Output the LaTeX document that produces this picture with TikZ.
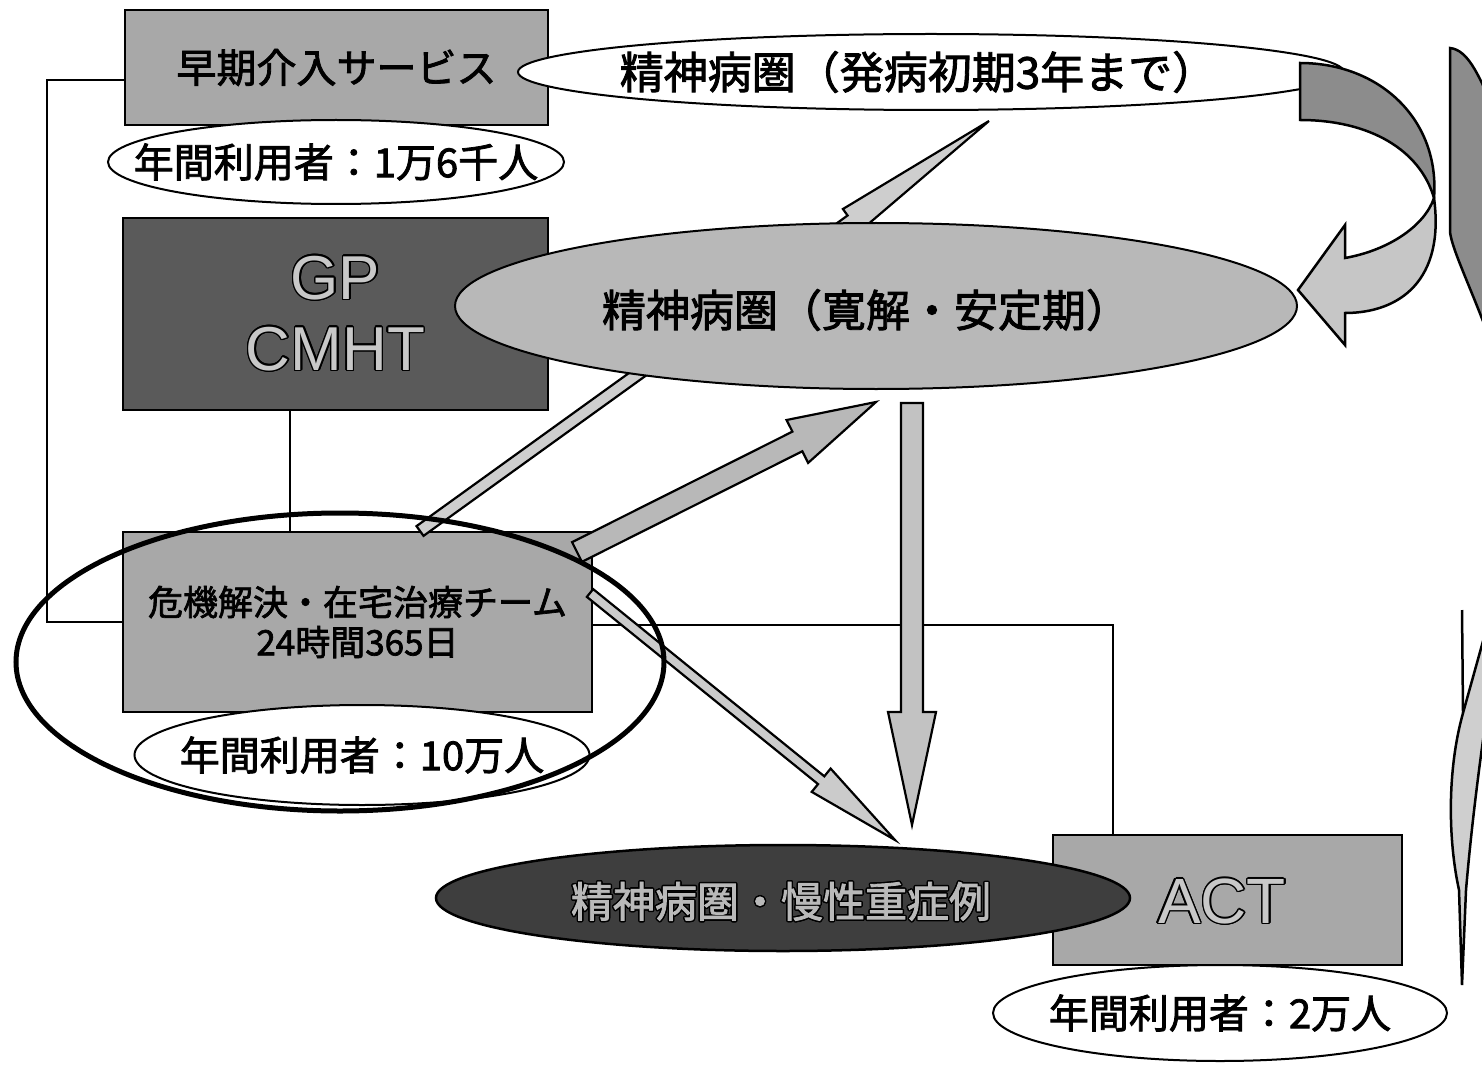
\documentclass[tikz,border=0pt]{standalone}
\usepackage{fontspec}
\setmainfont{Liberation Serif}
\newfontfamily\jp[FakeBold=2]{Noto Sans CJK JP}
\newfontfamily\arialf{Liberation Sans}
\usepackage{contour}
\contourlength{1.4pt}
\usetikzlibrary{calc,shapes.geometric}
\definecolor{boxgray}{HTML}{A8A8A8}
\definecolor{darkbox}{HTML}{5A5A5A}
\definecolor{midoval}{HTML}{B8B8B8}
\definecolor{darkoval}{HTML}{3E3E3E}
\definecolor{arrgray}{HTML}{C2C2C2}
\definecolor{bandA}{HTML}{8C8C8C}
\definecolor{bandB}{HTML}{C6C6C6}
\definecolor{txtlight}{HTML}{C8C8C8}
\newcommand{\blockarr}[6]{%
  \coordinate (#1h) at ($(#2)!#5!(#1)$);
  \draw[#6] ($(#1)!#3!90:(#2)$) -- ($(#1h)!#3!-90:(#1)$) -- ($(#1h)!#4!-90:(#1)$) -- (#2)
    -- ($(#1h)!#4!90:(#1)$) -- ($(#1h)!#3!90:(#1)$) -- ($(#1)!#3!-90:(#2)$) -- cycle;}
\begin{document}
\begin{tikzpicture}[x=1pt,y=-1pt,
  box/.style={draw, line width=2.5pt, rectangle, inner sep=0pt, align=center},
  oval/.style={draw, line width=2pt, ellipse, inner sep=0pt},
  conn/.style={line width=1.6pt},
  barrow/.style={draw, line width=2.2pt, fill=arrgray, line join=miter},
  jptext/.style={inner sep=0pt, align=center, font=\jp}]
\useasboundingbox (0,0) rectangle (1482,1067);
\fill[white] (0,0) rectangle (1482,1067);

% boxes
\node[box, fill=boxgray, minimum width=423pt, minimum height=115pt,
      font=\jp\fontsize{40}{40}\selectfont] (early) at (336.5,67.5) {\raisebox{-4pt}{早期介入サービス}};
\node[box, fill=darkbox, minimum width=425pt, minimum height=192pt,
      font=\arialf\fontsize{62}{71}\selectfont] (gp) at (335.5,314)
      {\contour{black}{\textcolor{txtlight}{GP}}\\\contour{black}{\textcolor{txtlight}{CMHT}}};
\node[box, fill=boxgray, minimum width=469pt, minimum height=180pt,
      font=\jp\fontsize{35}{40}\selectfont] (crisis) at (357.5,622)
      {危機解決・在宅治療チーム\\24時間365日};
\node[box, fill=boxgray, minimum width=349pt, minimum height=130pt] (act) at (1227.5,900) {};
\node[inner sep=0pt] (actt) at (1222,902) {\arialf\fontsize{64}{64}\selectfont\contour{black}{\textcolor{txtlight}{ACT}}};

% thin connectors
\draw[conn] ([yshift=-12.5pt]early.west) -- ++(-77,0) |- (crisis.west);
\draw[conn] ([xshift=-45.5pt]gp.south) -- ([xshift=-67.5pt]crisis.north);
\draw[conn] ([yshift=-3pt]crisis.east) -| ([xshift=-114.5pt]act.north);

% arrow a (behind the oval)
\coordinate (aT) at (420,531);
\coordinate (aP) at (989,121);
\blockarr{aT}{aP}{6pt}{14pt}{170pt}{barrow, fill=arrgray!80}

% ovals
\node[oval, fill=white, minimum width=456pt, minimum height=84pt] (u1) at (336,162) {};
\node[jptext] (u1t) at (u1) {\fontsize{40}{40}\selectfont 年間利用者：1万6千人};
\node[oval, fill=white, minimum width=826pt, minimum height=76pt] (e1) at (931,72) {};
\node[jptext] (e1t) at (918,72) {\fontsize{44}{44}\selectfont 精神病圏（発病初期3年まで）};
\node[oval, fill=midoval, minimum width=842pt, minimum height=166pt] (e2) at (876,306) {};
\node[jptext] (e2t) at (866,310) {\fontsize{44}{44}\selectfont 精神病圏（寛解・安定期）};
\node[oval, fill=white, minimum width=455pt, minimum height=100pt] (u2) at (362,755) {};
\node[jptext] (u2t) at (u2) {\fontsize{40}{40}\selectfont 年間利用者：10万人};
\node[oval, fill=darkoval, line width=2.5pt, minimum width=694pt, minimum height=106pt] (e3) at (783,898) {};
\node[jptext] (e3t) at (781,902) {\fontsize{42}{42}\selectfont\contour{black}{\textcolor{gray!55}{精神病圏・慢性重症例}}};
\node[oval, fill=white, minimum width=454pt, minimum height=96pt] (u3) at (1220,1013) {};
\node[jptext] (u3t) at (u3) {\fontsize{40}{40}\selectfont 年間利用者：2万人};

% block arrows b, c, d
\coordinate (bT) at (577,552);
\coordinate (bP) at (876,402);
\blockarr{bT}{bP}{11pt}{24pt}{88pt}{barrow, fill=arrgray!95!black}
\coordinate (cT) at (590,593);
\coordinate (cP) at (895,840);
\blockarr{cT}{cP}{5pt}{15pt}{95pt}{barrow, fill=arrgray!85}
\coordinate (dT) at (912,403);
\coordinate (dP) at (912,825);
\blockarr{dT}{dP}{11pt}{24pt}{113pt}{barrow, fill=arrgray}

% curved twisted arrow (top right)
\draw[line width=2.5pt, fill=bandA, line join=miter]
  (1300,63) .. controls (1380,63) and (1440,120) .. (1434,198)
  .. controls (1420,150) and (1370,120) .. (1300,120) -- cycle;
\draw[line width=2.5pt, fill=bandB, line join=miter]
  (1434,198) .. controls (1445,280) and (1400,313) .. (1345,313)
  -- (1345,345) -- (1298,290) -- (1345,225) -- (1345,258)
  .. controls (1390,250) and (1425,225) .. (1434,198) -- cycle;

% right edge fragments
\draw[line width=2.5pt, fill=bandA]
  (1450,48) .. controls (1468,50) and (1478,75) .. (1490,100) -- (1490,340)
  .. controls (1472,290) and (1452,250) .. (1450,232) -- cycle;
\draw[line width=2.5pt] (1462,610) -- (1463,713);
\draw[line width=2.5pt, fill=bandB!85!white, line join=miter]
  (1495,598) -- (1463,713) .. controls (1447,770) and (1448,840) .. (1459,890)
  -- (1462,985) -- (1466,890) .. controls (1472,820) and (1480,760) .. (1490,690) -- cycle;

% big ring around crisis team
\node[draw, ellipse, line width=5pt, inner sep=0pt, minimum width=648pt, minimum height=298pt] (ring) at (340,662) {};
\end{tikzpicture}
\end{document}
